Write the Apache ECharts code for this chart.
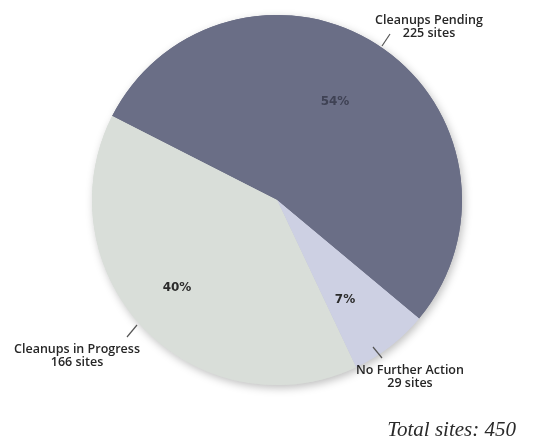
<!DOCTYPE html>
<html>
<head>
<meta charset="utf-8">
<script src="https://cdn.jsdelivr.net/npm/echarts@6/dist/echarts.min.js"></script>
<style>
html,body{margin:0;padding:0;background:#fff;}
#chart{width:549px;height:446px;}
</style>
</head>
<body>
<div id="chart"></div>
<script>
// Data
var categories = ["Cleanups Pending", "No Further Action", "Cleanups in Progress"];
var siteCounts = [225, 29, 166];
var totalLabel = "Total sites: 450";

// Styles
var sliceColors = ["#6a6e86", "#cdd0e3", "#d9ded9"];
var pctLabelColors = ["#3f4254", "#2b2b2b", "#2b2b2b"];
var pctPos = [[335, 102], [345, 300], [177, 288]];
var namePos = [[429, 27], [410, 377], [77, 356]];
var leaderLines = [
  [[382, 46], [390, 34]],
  [[373, 347], [382, 358]],
  [[127, 337], [137, 325]]
];

var sum = siteCounts.reduce(function (a, b) { return a + b; }, 0);
function makeData(colorFn, labelFn) {
  return categories.map(function (c, i) {
    var d = { name: c, value: siteCounts[i], itemStyle: { color: colorFn(i) } };
    if (labelFn) d.label = labelFn(i);
    return d;
  });
}

var common = {
  type: 'pie',
  center: [277, 200],
  radius: [0, 185],
  startAngle: 153,
  clockwise: true,
  emphasis: { disabled: true }
};

var chart = echarts.init(document.getElementById('chart'));
chart.setOption({
  animation: false,
  series: [
    Object.assign({}, common, {
      z: 1,
      silent: true,
      data: makeData(function (i) { return sliceColors[i]; }),
      itemStyle: {
        borderWidth: 0,
        shadowBlur: 9,
        shadowColor: 'rgba(0,0,0,0.25)',
        shadowOffsetX: 2,
        shadowOffsetY: 3
      },
      label: { show: false },
      labelLine: { show: false }
    }),
    Object.assign({}, common, {
      z: 2,
      data: makeData(function (i) { return sliceColors[i]; },
        function (i) { return { color: pctLabelColors[i] }; }),
      itemStyle: { borderWidth: 0 },
      label: {
        show: true,
        position: 'inside',
        fontFamily: 'DejaVu Sans',
        fontSize: 12,
        fontWeight: 'bold',
        formatter: function (p) {
          return Math.round(p.value / sum * 100) + '%';
        }
      },
      labelLine: { show: false },
      labelLayout: function (p) {
        return { x: pctPos[p.dataIndex][0], y: pctPos[p.dataIndex][1], align: 'center', verticalAlign: 'middle' };
      }
    }),
    Object.assign({}, common, {
      z: 3,
      silent: true,
      data: makeData(function () { return 'rgba(0,0,0,0)'; }),
      label: {
        show: true,
        position: 'outside',
        overflow: 'none',
        width: 200,
        fontFamily: 'Open Sans',
        fontWeight: 600,
        fontSize: 12.5,
        lineHeight: 13,
        color: '#262626',
        align: 'center',
        formatter: function (p) { return p.name + '\n' + p.value + ' sites'; }
      },
      labelLine: { show: true, length: 5, length2: 5, lineStyle: { color: '#555', width: 1.2 } },
      labelLayout: function (p) {
        var i = p.dataIndex;
        return {
          x: namePos[i][0], y: namePos[i][1], align: 'center', verticalAlign: 'middle',
          labelLinePoints: leaderLines[i]
        };
      }
    })
  ],
  graphic: [
    {
      type: 'text',
      right: 33,
      top: 420,
      style: {
        text: totalLabel,
        font: 'italic 21px "Liberation Serif"',
        fill: '#2a2a2a'
      }
    }
  ]
});
</script>
</body>
</html>
